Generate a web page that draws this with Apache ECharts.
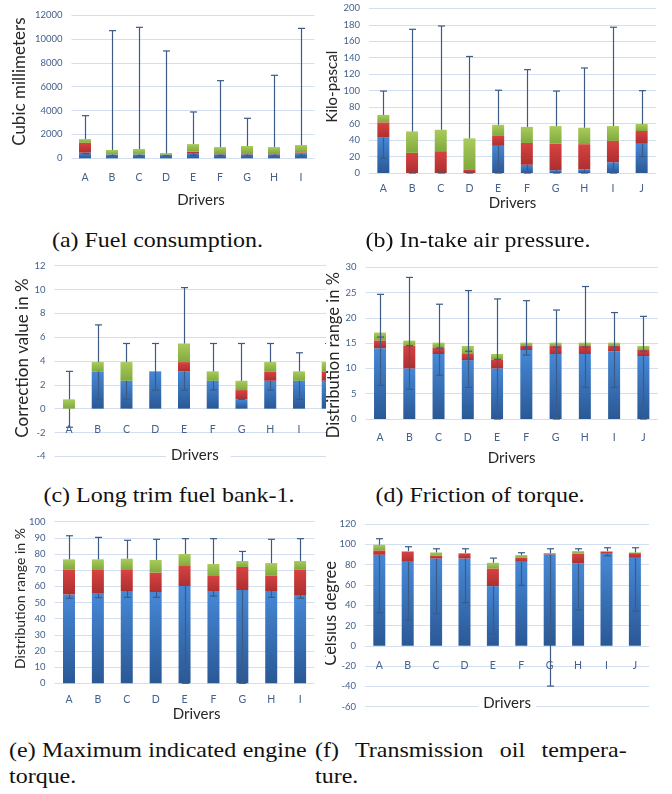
<!DOCTYPE html>
<html><head><meta charset="utf-8">
<script src="https://cdn.jsdelivr.net/npm/echarts@6/dist/echarts.min.js"></script>
<style>
html,body{margin:0;padding:0;background:#fff;}
body{width:672px;height:794px;position:relative;overflow:hidden;}
.panel{position:absolute;overflow:hidden;}
.cap{position:absolute;font-family:'Liberation Serif','Times New Roman',serif;font-size:22px;line-height:26px;color:#111;white-space:nowrap;}
.c1{text-align:center;transform:scaleX(1.09);transform-origin:center top;}
.j{text-align:justify;text-align-last:justify;transform:scaleX(1.09);transform-origin:left top;}
.l{transform:scaleX(1.09);transform-origin:left top;}
</style></head><body>
<div id="pa" class="panel" style="left:0;top:0;width:330px;height:215px"></div>
<div id="pb" class="panel" style="left:325px;top:0;width:347px;height:215px"></div>
<div id="pc" class="panel" style="left:0;top:255px;width:326px;height:215px"></div>
<div id="pd" class="panel" style="left:326px;top:255px;width:346px;height:215px"></div>
<div id="pe" class="panel" style="left:0;top:510px;width:325px;height:215px"></div>
<div id="pf" class="panel" style="left:325px;top:510px;width:347px;height:215px"></div>

<div class="cap c1" style="left:0;top:227px;width:315px">(a) Fuel consumption.</div>
<div class="cap c1" style="left:320px;top:227px;width:316px">(b) In-take air pressure.</div>
<div class="cap c1" style="left:0;top:482px;width:338px">(c) Long trim fuel bank-1.</div>
<div class="cap c1" style="left:320px;top:482px;width:320px">(d) Friction of torque.</div>
<div class="cap j" style="left:9px;top:737px;width:273px">(e) Maximum indicated engine</div>
<div class="cap l" style="left:9px;top:763px">torque.</div>
<div class="cap j" style="left:315px;top:737px;width:286px">(f) Transmission oil tempera-</div>
<div class="cap l" style="left:315px;top:763px">ture.</div>

<script>
// ---------- categories ----------
const drivers9 = ['A','B','C','D','E','F','G','H','I'];
const drivers10 = ['A','B','C','D','E','F','G','H','I','J'];

// ---------- (a) Fuel consumption (cubic millimeters) ----------
const fuelTicks = [0, 2000, 4000, 6000, 8000, 10000, 12000];
const fuelQ1  = [470, 330, 330, 300, 440, 330, 330, 330, 390];
const fuelMed = [1300, 330, 330, 300, 560, 420, 420, 420, 500];
const fuelQ3  = [1610, 700, 780, 440, 1190, 940, 1030, 940, 1110];
const fuelMin = [390, 200, 200, 200, 250, 200, 200, 200, 200];
const fuelMax = [3570, 10690, 10970, 8990, 3880, 6500, 3350, 6950, 10880];

// ---------- (b) In-take air pressure (kPa) ----------
const airTicks = [0, 20, 40, 60, 80, 100, 120, 140, 160, 180, 200];
const airQ1  = [43, 0, 0, 0, 33, 10, 3.5, 4.5, 13, 35.5];
const airMed = [61.5, 24.5, 26.5, 4.5, 45, 36.5, 35.5, 35, 39, 51];
const airQ3  = [70.5, 50.5, 52.5, 42, 58.5, 56, 57, 55, 57, 59.5];
const airMin = [18, 0, 0, 0, 0, 0, 0, 0, 0, 20];
const airMax = [99.5, 174.5, 178.5, 141.5, 100.5, 125.5, 99.5, 127.5, 177, 100];

// ---------- (c) Long trim fuel bank-1 (%) ----------
const trimTicks = [-4, -2, 0, 2, 4, 6, 8, 10, 12];
const trimQ1  = [0, 3.13, 2.34, 3.13, 3.13, 2.34, 0.78, 2.34, 2.34, 2.34];
const trimMed = [0, 3.13, 2.34, 3.13, 3.91, 2.34, 1.56, 3.13, 2.34, 3.13];
const trimQ3  = [0.78, 3.91, 3.91, 3.13, 5.47, 3.13, 2.34, 3.91, 3.13, 3.91];
const trimMin = [-1.56, 0.78, 0.78, 1.56, 1.56, 1.56, 0.78, 1.56, 0.78, 1.56];
const trimMax = [3.13, 7.03, 5.47, 5.47, 10.16, 5.47, 5.47, 5.47, 4.69, 5.47];

// ---------- (d) Friction of torque (%) ----------
const fricTicks = [0, 5, 10, 15, 20, 25, 30];
const fricQ1  = [14.0, 10.0, 12.85, 11.65, 10.0, 13.65, 12.85, 12.85, 13.4, 12.45];
const fricMed = [15.55, 14.5, 14.05, 12.85, 11.8, 14.45, 14.45, 14.45, 14.45, 13.65];
const fricQ3  = [17.1, 15.5, 15.1, 14.45, 12.85, 15.1, 15.1, 15.1, 15.1, 14.45];
const fricMin = [6.65, 5.85, 8.65, 6.25, 0, 12.65, 0, 6.25, 6.25, 0];
const fricMid = [16.2, 14.5, 14.05, 13.4, 11.8, 14.2, 14.2, 14.2, 14.2, 13.4];
const fricMax = [24.65, 28.0, 22.7, 25.4, 23.75, 23.4, 21.55, 26.2, 21.05, 20.3];

// ---------- (e) Maximum indicated engine torque (%) ----------
const torqTicks = [0, 10, 20, 30, 40, 50, 60, 70, 80, 90, 100];
const torqQ1  = [55, 55.5, 57.1, 56.5, 60.2, 57.1, 57.7, 57.1, 54.6];
const torqMed = [70.5, 70.1, 70.1, 68.5, 72.6, 66.4, 72, 66.8, 70.5];
const torqQ3  = [76.7, 76.7, 77.1, 76.3, 80, 73.8, 75.7, 74.4, 75.7];
const torqMin = [52.6, 53, 53.2, 53.2, 0, 54, 0, 53.2, 52.6];
const torqMax = [91.3, 90.3, 88.5, 89.1, 89.5, 89.5, 81.6, 89.1, 89.5];

// ---------- (f) Transmission oil temperature (°C) ----------
const oilTicks = [-60, -40, -20, 0, 20, 40, 60, 80, 100, 120];
const oilQ1  = [89.7, 82.8, 86, 86, 58.8, 82.8, 90, 81.1, 90.7, 86.7];
const oilMed = [94, 92.6, 88.7, 91, 76.2, 87, 91, 90.7, 92.6, 91.3];
const oilQ3  = [99.5, 93.3, 92, 91.3, 81.8, 89.4, 91.3, 93.3, 93.3, 92];
const oilMin = [32.5, 25.3, 31.5, 42.4, 11.8, 59.5, -39.7, 35.2, 88.7, 34.2];
const oilMax = [105.5, 97.6, 95.6, 95.6, 86.4, 91.7, 95.6, 95.6, 96.6, 96.6];

// ---------- styling ----------
const FONT = "Lato, 'Liberation Sans', sans-serif";
const TICK_COLOR = '#44618d';
const NAME_COLOR = '#262626';
const GRID_COLOR = '#d3dfee';
const WHISKER = '#3d5a84';

function grad(c1, c2) {
  return new echarts.graphic.LinearGradient(0, 0, 0, 1, [
    {offset: 0, color: c1}, {offset: 1, color: c2}
  ]);
}

function renderWhisker(params, api) {
  const i = api.value(0);
  const pLo = api.coord([i, api.value(1)]);
  const pLoF = api.coord([i, api.value(2)]);
  const pHiF = api.coord([i, api.value(3)]);
  const pHi = api.coord([i, api.value(4)]);
  const hasMid = api.value(5) === 1;
  const x = Math.round(pLo[0]) + 0.5;
  const st = {stroke: WHISKER, lineWidth: 1.2};
  const cap = (y) => ({type: 'line', shape: {x1: x - 3.5, y1: y, x2: x + 3.5, y2: y}, style: st});
  const kids = [
    {type: 'line', shape: {x1: x, y1: pLoF[1], x2: x, y2: pLo[1]}, style: st},
    {type: 'line', shape: {x1: x, y1: pHiF[1], x2: x, y2: pHi[1]}, style: st},
    cap(pLo[1]), cap(pHi[1])
  ];
  if (hasMid) kids.push(cap(pLoF[1]));
  return {type: 'group', children: kids};
}

function makeOption(p) {
  const blue = p.q1.slice();
  const red = p.med.map((v, i) => +(v - p.q1[i]).toFixed(3));
  const green = p.q3.map((v, i) => +(v - p.med[i]).toFixed(3));
  const wData = p.cats.map((c, i) => [
    i, p.lo[i],
    p.mid ? p.mid[i] : p.q1[i],
    p.mid ? p.mid[i] : p.q3[i],
    p.hi[i],
    p.mid ? 1 : 0
  ]);
  const bar = (name, data, color) => ({
    type: 'bar', name, stack: 'box', data, barWidth: 12, z: 2,
    itemStyle: {color}, emphasis: {disabled: true}
  });
  // place the category axis at value 0 (the axis runs from ticks[0] to last tick)
  const lo = p.ticks[0], hi = p.ticks[p.ticks.length - 1];
  const zeroShift = lo < 0 ? -p.grid.height * (0 - lo) / (hi - lo) : 0;
  return {
    animation: false,
    grid: Object.assign({containLabel: false, outerBoundsMode: 'none'}, p.grid),
    xAxis: {
      type: 'category', data: p.cats, offset: zeroShift,
      axisLine: {show: false, onZero: false},
      axisTick: {show: false},
      axisLabel: {color: TICK_COLOR, fontFamily: FONT, fontSize: 10.5, margin: p.xMargin},
      name: 'Drivers', nameLocation: 'middle', nameGap: p.xGap, nameMoveOverlap: false,
      nameTextStyle: Object.assign({color: NAME_COLOR, fontFamily: FONT, fontSize: 15}, p.xNameStyle || {})
    },
    yAxis: {
      type: 'value', min: lo, max: hi,
      interval: p.ticks[1] - p.ticks[0],
      axisLine: {show: false}, axisTick: {show: false},
      splitLine: {lineStyle: {color: GRID_COLOR, width: 1}},
      axisLabel: {color: TICK_COLOR, fontFamily: FONT, fontSize: 9.5, margin: 9, formatter: (v) => String(v)},
      name: p.yName, nameLocation: 'middle', nameGap: p.yGap, nameMoveOverlap: false,
      nameTextStyle: {color: NAME_COLOR, fontFamily: FONT, fontSize: p.yFont, padding: p.yPad}
    },
    series: [
      bar('Q1', blue, grad('#4688d6', '#2a5895')),
      bar('Median', red, grad('#d84242', '#ad2f2f')),
      bar('Q3', green, grad('#a8cb5c', '#82a93d')),
      {type: 'custom', name: 'Range', renderItem: renderWhisker, data: wData, z: 3,
       encode: {x: 0, y: [1, 2, 3, 4]}, silent: true}
    ]
  };
}

const panels = [
  {id: 'pa', cats: drivers9, ticks: fuelTicks, q1: fuelQ1, med: fuelMed, q3: fuelQ3, lo: fuelMin, hi: fuelMax,
   grid: {left: 71.5, top: 15, width: 243, height: 143.3}, xMargin: 14, xGap: 34,
   xNameStyle: {padding: [0, 0, 0, 16]},
   yName: 'Cubic millimeters', yFont: 17, yGap: 43, yPad: [0, 0, 0, 10]},
  {id: 'pb', cats: drivers10, ticks: airTicks, q1: airQ1, med: airMed, q3: airQ3, lo: airMin, hi: airMax,
   grid: {left: 44, top: 8.3, width: 287, height: 164.7}, xMargin: 10, xGap: 22.5,
   yName: 'Kilo-pascal', yFont: 15, yGap: 29.8, yPad: [0, 0, 0, 8]},
  {id: 'pc', cats: drivers10, ticks: trimTicks, q1: trimQ1, med: trimMed, q3: trimQ3, lo: trimMin, hi: trimMax,
   grid: {left: 54.6, top: 10.7, width: 287.5, height: 190.6}, xMargin: 15, xGap: 39,
   xNameStyle: {backgroundColor: '#fff', padding: [0, 12, 0, 5]},
   yName: 'Correction value in %', yFont: 17, yGap: 23.6, yPad: [0, 0, 0, 6]},
  {id: 'pd', cats: drivers10, ticks: fricTicks, q1: fricQ1, med: fricMed, q3: fricQ3, lo: fricMin, hi: fricMax, mid: fricMid,
   grid: {left: 39.4, top: 12.3, width: 292.6, height: 151.7}, xMargin: 13, xGap: 31.8,
   yName: 'Distribution range in %', yFont: 16.5, yGap: 23.4, yPad: [0, 24, 0, 0]},
  {id: 'pe', cats: drivers9, ticks: torqTicks, q1: torqQ1, med: torqMed, q3: torqQ3, lo: torqMin, hi: torqMax,
   grid: {left: 54.55, top: 11.7, width: 260, height: 161.6}, xMargin: 10.5, xGap: 23.2,
   xNameStyle: {padding: [0, 0, 0, 24]},
   yName: 'Distribution range in %', yFont: 14, yGap: 27, yPad: [0, 0, 0, 8]},
  {id: 'pf', cats: drivers10, ticks: oilTicks, q1: oilQ1, med: oilMed, q3: oilQ3, lo: oilMin, hi: oilMax,
   grid: {left: 40.1, top: 14, width: 284, height: 182.7}, xMargin: 14, xGap: 50,
   xNameStyle: {backgroundColor: '#fff', padding: [0, 5, 0, 5]},
   yName: 'Celsius degree', yFont: 16.5, yGap: 26.4, yPad: [0, 0, 0, 4]}
];

panels.forEach((p) => {
  const chart = echarts.init(document.getElementById(p.id), null, {renderer: 'canvas'});
  chart.setOption(makeOption(p));
});
</script>
</body></html>
